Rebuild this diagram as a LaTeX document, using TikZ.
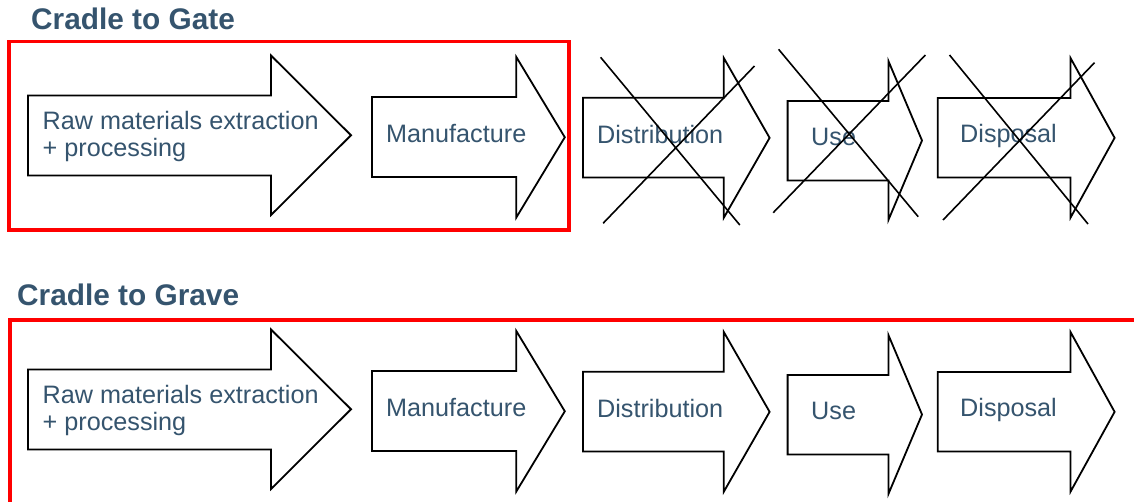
\documentclass[tikz,border=0pt]{standalone}
\usepackage{fontspec}
\setmainfont{Liberation Sans}
\definecolor{slate}{RGB}{53,84,110}
\begin{document}
\begin{tikzpicture}[x=1pt,y=-1pt,
    blockarrow/.style={draw=black,line width=1.8pt,fill=white},
    stagetext/.style={text=slate,inner sep=0pt,align=left,font=\fontsize{25.2}{27.5}\selectfont},
    heading/.style={text=slate,inner sep=0pt,font=\fontsize{29.8}{34}\selectfont\bfseries},
    scopebox/.style={draw=red,line width=3.6pt},
    crossout/.style={draw=black,line width=1.6pt}]
   \clip (0,0) rectangle (1134,501);

   % titles
   \node[heading, anchor=base west] (gate)  at (31,29.3)  {Cradle to Gate};
   \node[heading, anchor=base west] (grave) at (17,305)   {Cradle to Grave};

   % frames
   \draw[scopebox] (9,41.3) rectangle (569,230);
   \draw[scopebox] (10,320.2) rectangle (1160,530);

   % both rows of stages
   \foreach \dy/\row in {0/gate,274/grave} {
     \begin{scope}[yshift=-\dy pt]
       \foreach \xa/\xb/\xc/\ya/\yb/\yc/\yd in
         {28/271/351/95.5/175.5/55.5/215,
          372/516.3/564.8/97/177/57/217.5,
          583/723.8/769.6/97.7/177.5/58/217.7,
          787.6/888.4/922/101/180.5/61/220,
          937.8/1070.5/1114.6/98/177.5/58/217.7}
         \draw[blockarrow] (\xa,\ya) -- (\xb,\ya) -- (\xb,\yc)
           -- (\xc,{(\yc+\yd)/2}) -- (\xb,\yd) -- (\xb,\yb) -- (\xa,\yb) -- cycle;

       \node[stagetext, anchor=base west] (\row-raw)  at (42.5,156.8) {Raw materials extraction\\+ processing};
       \node[stagetext, anchor=base west] (\row-man)  at (386,142.2)  {Manufacture};
       \node[stagetext, anchor=base west] (\row-dist) at (597,143.8)  {Distribution};
       \node[stagetext, anchor=base west] (\row-use)  at (811,145)    {Use};
       \node[stagetext, anchor=base west] (\row-disp) at (960,142.2)  {Disposal};
     \end{scope}
   }

   % stages left out of cradle to gate
   \draw[crossout] (600.6,57.3) -- (739.8,225)  (754.5,66) -- (603.1,223.3);
   \draw[crossout] (778.6,49.3) -- (918.2,216.7) (925.4,55) -- (773.2,212.7);
   \draw[crossout] (949.5,55)   -- (1088,224)   (1094.5,62.7) -- (943,220);
\end{tikzpicture}
\end{document}
